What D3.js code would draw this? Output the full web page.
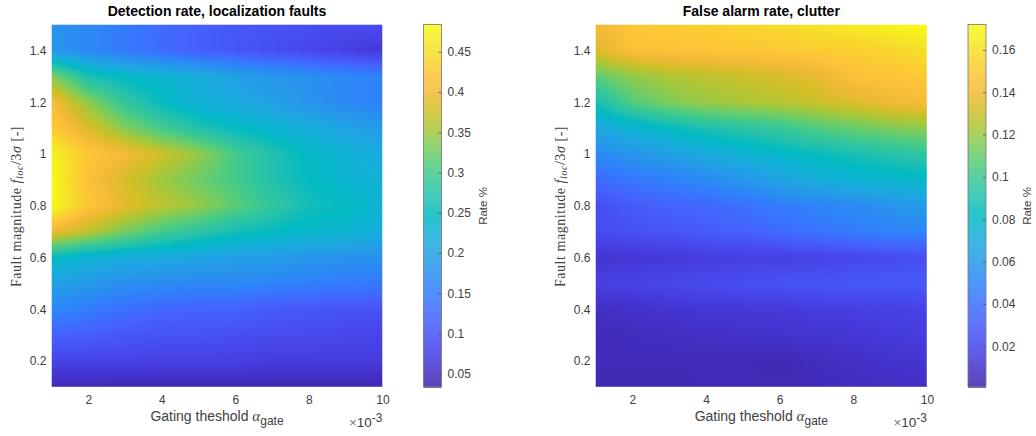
<!DOCTYPE html>
<html>
<head>
<meta charset="utf-8">
<script src="https://cdn.jsdelivr.net/npm/d3@7"></script>
<style>
  html, body { margin: 0; background: #fff; }
  svg { display: block; }
  text { font-family: "Liberation Sans", Arial, sans-serif; fill: #404040; }
  .tick text { font-size: 12px; }
  .serif { font-family: "Liberation Serif", serif; }
</style>
</head>
<body>
<svg width="1036" height="436"></svg>
<script>
var xValues = [1, 2, 3, 4, 5, 6, 7, 8, 9, 10];
var yValues = [1.5, 1.4, 1.3, 1.2, 1.1, 1.0, 0.9, 0.8, 0.7, 0.6, 0.5, 0.4, 0.3, 0.2, 0.1];

// rows run from y = 1.5 down to y = 0.1
var detectionRate = [
  [.180, .165, .150, .130, .115, .105, .100, .095, .090, .090],
  [.185, .165, .145, .130, .115, .105, .095, .085, .075, .065],
  [.335, .265, .245, .235, .220, .200, .185, .175, .165, .155],
  [.410, .340, .285, .250, .225, .215, .200, .180, .165, .155],
  [.430, .385, .335, .300, .270, .250, .235, .220, .205, .190],
  [.475, .425, .405, .375, .345, .300, .270, .245, .230, .215],
  [.482, .415, .380, .350, .325, .300, .270, .250, .235, .225],
  [.482, .425, .390, .365, .345, .315, .285, .260, .250, .230],
  [.400, .365, .330, .300, .280, .260, .250, .240, .235, .220],
  [.250, .230, .220, .215, .205, .200, .195, .185, .180, .175],
  [.200, .190, .175, .170, .165, .165, .160, .155, .150, .145],
  [.165, .150, .135, .125, .120, .120, .110, .105, .100, .100],
  [.120, .115, .105, .100, .100, .095, .090, .090, .085, .080],
  [.080, .080, .080, .075, .075, .075, .070, .070, .070, .070],
  [.042, .042, .040, .040, .040, .040, .040, .040, .040, .040]
];

var falseAlarmRate = [
  [.140, .150, .152, .153, .156, .158, .162, .165, .169, .172],
  [.135, .145, .147, .148, .149, .150, .152, .153, .156, .160],
  [.108, .118, .124, .127, .130, .133, .137, .146, .148, .150],
  [.087, .106, .115, .120, .123, .126, .130, .135, .140, .143],
  [.068, .076, .083, .090, .094, .098, .105, .110, .115, .118],
  [.052, .058, .063, .070, .075, .080, .084, .088, .092, .096],
  [.037, .043, .047, .052, .058, .065, .072, .076, .078, .080],
  [.024, .030, .034, .036, .040, .046, .049, .052, .057, .062],
  [.022, .025, .027, .030, .033, .037, .041, .045, .048, .050],
  [.011, .012, .013, .015, .016, .017, .018, .020, .022, .024],
  [.017, .018, .020, .022, .024, .026, .027, .028, .029, .029],
  [.007, .009, .011, .012, .013, .013, .015, .016, .017, .018],
  [.005, .006, .007, .008, .009, .010, .011, .012, .014, .015],
  [.005, .005, .005, .005, .005, .004, .006, .008, .010, .011],
  [.004, .004, .004, .005, .005, .005, .005, .006, .007, .008]
];

var xTicks = [2, 4, 6, 8, 10];
var yTicks = [0.2, 0.4, 0.6, 0.8, 1, 1.2, 1.4];
var detectionTicks = [0.05, 0.1, 0.15, 0.2, 0.25, 0.3, 0.35, 0.4, 0.45];
var falseAlarmTicks = [0.02, 0.04, 0.06, 0.08, 0.1, 0.12, 0.14, 0.16];

var parula = ["#3e26a8", "#4332cb", "#4741e5", "#4752f4", "#4563fd", "#3875fe", "#2d87f7", "#2796eb",
  "#20a5e3", "#12b1d6", "#02bac3", "#24c1ae", "#37c897", "#57cc7a", "#80cc59", "#abc739",
  "#d1bf27", "#f0ba36", "#fec338", "#f9d62d", "#f5e924", "#f9fb15"];

var svg = d3.select("svg");

drawPanel({
  left: 51.5, right: 382.5, barLeft: 423.5, barRight: 441.5,
  values: detectionRate, domain: [0.034, 0.484], barTicks: detectionTicks,
  barFormat: d3.format(".2~f"), title: "Detection rate, localization faults"
});

drawPanel({
  left: 595.5, right: 927, barLeft: 968, barRight: 986,
  values: falseAlarmRate, domain: [0.001, 0.172], barTicks: falseAlarmTicks,
  barFormat: d3.format(".2~f"), title: "False alarm rate, clutter"
});

function drawPanel(p) {
  var top = 24.5, bottom = 387;

  var x = d3.scaleLinear().domain([1, 10]).range([p.left, p.right]);
  var y = d3.scaleLinear().domain([0.1, 1.5]).range([bottom, top]);
  var color = d3.scaleSequential(d3.piecewise(d3.interpolateRgb, parula)).domain(p.domain).clamp(true);

  var g = svg.append("g");

  // interpolated shading, one canvas pixel at a time
  var w = Math.round(p.right - p.left), h = Math.round(bottom - top);
  var canvas = document.createElement("canvas");
  canvas.width = w;
  canvas.height = h;
  var ctx = canvas.getContext("2d");
  for (var i = 0; i < w; i++) {
    for (var j = 0; j < h; j++) {
      ctx.fillStyle = color(valueAt(p.values, x.invert(p.left + i + 0.5), y.invert(top + j + 0.5)));
      ctx.fillRect(i, j, 1, 1);
    }
  }
  g.append("image")
    .attr("x", p.left).attr("y", top)
    .attr("width", p.right - p.left).attr("height", bottom - top)
    .attr("preserveAspectRatio", "none")
    .attr("href", canvas.toDataURL());

  var xAxis = g.append("g")
    .attr("transform", "translate(0," + bottom + ")")
    .call(d3.axisBottom(x).tickValues(xTicks).tickSize(0).tickPadding(8));
  xAxis.select(".domain").remove();

  var yAxis = g.append("g")
    .attr("transform", "translate(" + p.left + ",0)")
    .call(d3.axisLeft(y).tickValues(yTicks).tickFormat(d3.format("~g")).tickSize(0).tickPadding(5));
  yAxis.select(".domain").remove();

  g.append("rect")
    .attr("x", p.left).attr("y", top)
    .attr("width", p.right - p.left).attr("height", bottom - top)
    .attr("fill", "none").attr("stroke", "#fff").attr("stroke-opacity", 0.45);

  g.append("text")
    .attr("x", (p.left + p.right) / 2).attr("y", 15.5)
    .attr("text-anchor", "middle")
    .style("font-size", "14px").style("font-weight", "bold").style("fill", "#000")
    .text(p.title);

  // x label with the serif alpha and sans subscript
  var xLabel = g.append("text")
    .attr("x", (p.left + p.right) / 2).attr("y", 421)
    .attr("text-anchor", "middle")
    .style("font-size", "14px");
  xLabel.append("tspan").text("Gating theshold ");
  xLabel.append("tspan").attr("class", "serif").style("font-style", "italic").style("font-size", "15px").text("α");
  xLabel.append("tspan").attr("dy", 4).style("font-size", "12px").text("gate");

  var scaleNote = g.append("text")
    .attr("x", p.right).attr("y", 427)
    .attr("text-anchor", "end")
    .style("font-size", "13.5px");
  scaleNote.append("tspan").style("fill", "#777").text("×");
  scaleNote.append("tspan").text("10");
  scaleNote.append("tspan").attr("dy", -5).style("font-size", "12px").text("-3");

  var yLabel = g.append("text")
    .attr("class", "serif")
    .attr("transform", "translate(" + (p.left - 31) + ",206.5) rotate(-90)")
    .attr("text-anchor", "middle")
    .style("font-size", "14px")
    .style("letter-spacing", "0.55px");
  yLabel.append("tspan").text("Fault magnitude ");
  yLabel.append("tspan").style("font-style", "italic").text("f");
  yLabel.append("tspan").attr("dy", 2).style("font-style", "italic").style("font-size", "10px").text("loc");
  yLabel.append("tspan").attr("dy", -2).text("/3");
  yLabel.append("tspan").style("font-style", "italic").text("σ");
  yLabel.append("tspan").text(" [-]");

  // colorbar
  var barY = d3.scaleLinear().domain(p.domain).range([bottom - 0.5, top]);
  var barSteps = d3.range(Math.round(bottom - top));
  g.append("g").selectAll("rect")
    .data(barSteps)
    .enter().append("rect")
    .attr("x", p.barLeft)
    .attr("y", function (d) { return top + d; })
    .attr("width", p.barRight - p.barLeft)
    .attr("height", 1.2)
    .attr("fill", function (d) { return color(barY.invert(top + d + 0.5)); });

  var barAxis = g.append("g")
    .attr("transform", "translate(" + p.barRight + ",0)")
    .call(d3.axisRight(barY).tickValues(p.barTicks).tickFormat(p.barFormat).tickSize(0).tickPadding(6));
  barAxis.select(".domain").remove();
  barAxis.selectAll(".tick").append("line")
    .attr("x1", -3).attr("x2", 0).attr("stroke", "#404040").attr("stroke-width", 0.7);

  g.append("rect")
    .attr("x", p.barLeft).attr("y", top)
    .attr("width", p.barRight - p.barLeft).attr("height", bottom - top - 0.5)
    .attr("fill", "none").attr("stroke", "#777").attr("stroke-width", 0.8);

  g.append("text")
    .attr("transform", "translate(" + (p.barRight + 45) + ",206) rotate(-90)")
    .attr("text-anchor", "middle")
    .style("font-size", "11.5px")
    .text("Rate %");
}

// bilinear lookup in the table, same as shading interp
function valueAt(values, xv, yv) {
  var cx = Math.min(Math.max(xv - xValues[0], 0), xValues.length - 1.001);
  var cy = Math.min(Math.max((yValues[0] - yv) / 0.1, 0), yValues.length - 1.001);
  var c0 = Math.floor(cx), r0 = Math.floor(cy);
  var tx = cx - c0, ty = cy - r0;
  var upper = d3.interpolateNumber(values[r0][c0], values[r0][c0 + 1])(tx);
  var lower = d3.interpolateNumber(values[r0 + 1][c0], values[r0 + 1][c0 + 1])(tx);
  return d3.interpolateNumber(upper, lower)(ty);
}
</script>
</body>
</html>
